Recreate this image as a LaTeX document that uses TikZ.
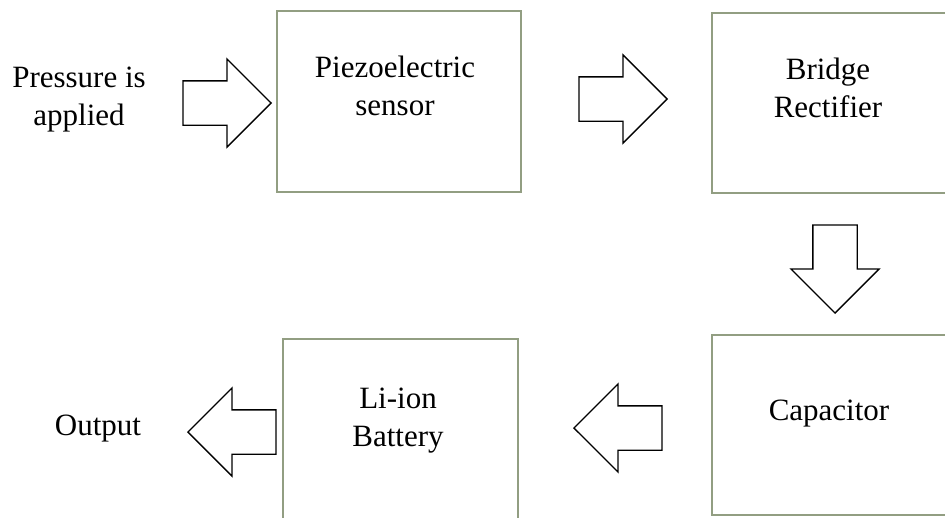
\documentclass[tikz,border=0pt]{standalone}
\usepackage{fontspec}
\setmainfont{Liberation Serif}
\usetikzlibrary{shapes.arrows}
\definecolor{boxline}{RGB}{146,158,130}

\begin{document}
\begin{tikzpicture}[x=1pt,y=-1pt,
  block/.style={draw=boxline,line width=1.6pt,rectangle,inner sep=0pt,fill=white},
  blocktext/.style={align=center,font=\fontsize{31}{38}\selectfont,inner sep=0pt,anchor=base},
  bigarrow/.style={draw=black,line width=1.3pt,fill=white,single arrow,
    single arrow head extend=22pt,inner sep=21.5pt,minimum height=88pt,anchor=tip}]
\useasboundingbox (0,0) rectangle (945,517);

% Blocks
\node[block,minimum width=244,minimum height=181] (piezo) at (399,101.5) {};
\node[block,minimum width=248,minimum height=180] (rectifier) at (836,103) {};
\node[block,minimum width=248,minimum height=180] (capacitor) at (836,425) {};
\node[block,minimum width=235,minimum height=201] (battery) at (400.5,439.5) {};

% Texts (base = last line)
\node[blocktext] (pressure) at (79,125) {Pressure is\\applied};
\node[blocktext] (piezotext) at (395,115) {Piezoelectric\\sensor};
\node[blocktext] (rectext) at (828,117) {Bridge\\Rectifier};
\node[blocktext] (captext) at (829,420) {Capacitor};
\node[blocktext] (battext) at (398,446) {Li-ion\\Battery};
\node[blocktext] (output) at (98,435) {Output};

% Block arrows
\node[bigarrow] (pressure2piezo) at (272,103) {};
\node[bigarrow] (piezo2rect) at (668,99) {};
\node[bigarrow,shape border rotate=270] (rect2cap) at (835,314) {};
\node[bigarrow,shape border rotate=180] (cap2bat) at (573,428) {};
\node[bigarrow,shape border rotate=180] (bat2out) at (187,432) {};
\end{tikzpicture}
\end{document}
